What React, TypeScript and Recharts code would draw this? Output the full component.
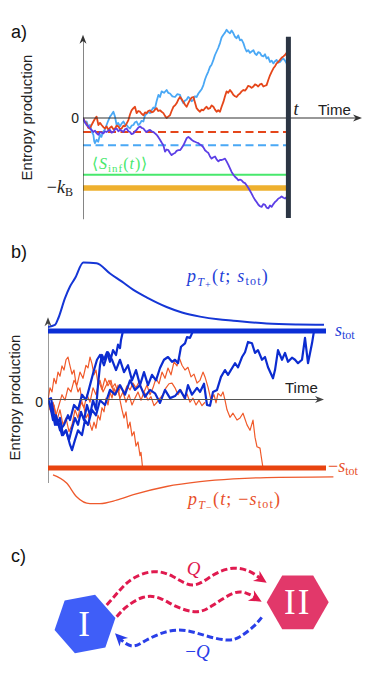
import React from 'react';
import { ComposedChart, Line, XAxis, YAxis, ReferenceDot, Scatter } from 'recharts';

// ================= Panel a (time: arbitrary units, entropy: units of 0.1 k_B) =================
const aTimeObs = 102.7;
const aTimeAxisEnd = 139.5;
const aEntropyAxisTop = 11.9;
const aRedMean = -2.0;
const aBlueMean = -3.9;
const aSinfMean = -8.1;
const aMinusKB = -10;

const aBlue: number[][] = [
  [0,0],[0.8,-0.6],[1.8,-0.5],[2.6,-1.2],[3.5,-1.0],[4.3,-1.9],[5.2,-2.4],[5.6,-3.3],[6,-3.6],[6.8,-3.1],[7.6,-3.4],[8.5,-2.4],[9.2,-2.7],[10,-2.0],[11,-1.6],[11.8,-1.0],[12.6,-0.4],[13.5,0.2],[14.3,0.5],[15.2,0.9],[16,0.2],[16.8,-1.0],[17.6,-0.7],[18.5,-1.2],[19.3,-0.8],[20.2,-0.5],[21,-0.9],[21.8,-1.0],[22.6,-1.3],[23.5,-1.5],[24.3,-1.1],[25.2,-1.0],[26,-0.6],[26.8,-0.5],[27.6,-1.0],[28.5,-0.8],[29.3,-0.4],[30.2,-0.5],[31,0.4],[31.8,0.6],[32.7,0.9],[33.5,0.7],[34.3,1.1],[35.2,1.5],[36,1.4],[36.8,2.4],[37.7,3.3],[38.5,3.0],[39.3,3.8],[40.5,3.6],[41.8,4.0],[42.6,3.6],[43.5,3.5],[44.7,3.1],[46,3.0],[47.2,3.4],[48.5,3.3],[49.3,2.6],[50.2,2.1],[51,2.5],[51.8,2.6],[52.6,3.0],[53.5,2.8],[54.3,2.4],[55.2,2.6],[56,3.1],[56.8,3.0],[57.7,3.5],[58.5,3.8],[59.3,4.1],[60.2,4.7],[61,5.5],[61.8,6.1],[62.6,6.6],[63.5,7.3],[64.3,7.6],[65.2,8.3],[66,9.0],[66.8,9.5],[67.6,10.0],[68.5,10.7],[69.3,11.5],[70.2,11.9],[71,12.2],[71.8,12.6],[72.6,12.3],[73.5,12.1],[74.3,12.5],[75.2,12.1],[76,11.6],[76.8,11.4],[77.6,11.8],[78.5,11.1],[79.3,11.2],[80.2,10.7],[81,10.0],[81.8,9.5],[82.6,9.7],[83.5,9.3],[84.3,9.5],[85.2,9.7],[86,9.2],[86.8,9.0],[87.6,9.4],[88.5,9.3],[89.3,8.9],[90.2,8.8],[91,9.1],[91.8,8.5],[92.6,8.7],[93.5,8.0],[94.3,8.2],[95.2,7.8],[96,8.1],[96.8,8.3],[97.6,7.9],[98.5,8.0],[99.3,8.3],[100.2,8.5],[101,8.2],[101.8,7.8],[102.6,7.0],[103.5,6.4],
];
const aRed: number[][] = [
  [0,0],[0.9,-0.5],[1.8,-0.8],[2.6,-1.4],[3.5,-1.5],[4.3,-1.0],[5.2,-0.5],[6,-0.1],[6.8,0.2],[7.7,-1.0],[8.5,-0.7],[9.3,-1.0],[10.2,-1.3],[11,-1.5],[11.8,-1.2],[12.7,-1.7],[13.5,-1.4],[14.3,-1.2],[15.2,-1.6],[16,-1.5],[16.8,-1.1],[17.7,-1.2],[18.5,-1.6],[19.3,-1.5],[20.2,-1.1],[21,-1.2],[21.8,-0.8],[22.7,-0.3],[23.5,0.5],[24.3,1.1],[25.2,1.4],[26,1.6],[26.8,0.7],[27.6,1.0],[28.5,0.9],[29.3,0.6],[30.2,0.4],[31,0.8],[31.8,0.7],[32.6,1.0],[33.5,1.1],[34.3,0.8],[35.2,0.9],[36,1.2],[36.8,1.4],[37.6,1.0],[38.5,1.1],[39.3,0.9],[40.2,0.7],[41,0.3],[41.8,0.0],[42.6,0.2],[43.5,0.4],[44.3,1.0],[45.2,1.6],[46,1.8],[46.8,2.1],[47.6,2.6],[48.5,3.0],[49.3,2.7],[50.2,2.3],[51,1.9],[51.8,1.6],[52.6,2.1],[53.5,2.6],[54.3,2.9],[55.2,3.0],[56,2.2],[56.8,1.4],[57.7,1.1],[58.5,0.9],[59.3,1.2],[60.2,1.1],[61,1.4],[61.8,1.6],[62.6,1.3],[63.5,1.4],[64.3,1.8],[65.2,1.6],[66,1.2],[66.8,0.9],[67.6,1.1],[68.5,0.9],[69.3,1.6],[70.2,2.3],[71,3.1],[71.8,3.8],[72.6,3.6],[73.5,4.0],[74.3,3.7],[75.2,3.3],[76,3.1],[76.8,3.0],[77.6,3.3],[78.5,3.5],[79.3,3.8],[80.2,4.0],[81,3.9],[81.8,4.2],[82.6,4.6],[83.5,4.5],[84.3,4.3],[85.2,4.5],[86,4.8],[86.8,4.7],[87.6,4.5],[88.5,4.8],[89.3,4.9],[90.2,4.5],[91,4.6],[91.8,4.7],[92.6,5.4],[93.5,6.1],[94.3,6.6],[95.2,7.1],[96,7.4],[96.8,7.8],[97.6,8.0],[98.5,8.3],[99.3,8.6],[100.2,8.8],[101,9.0],[101.8,9.3],[102.6,9.5],[103.5,9.6],
];
const aPurple: number[][] = [
  [0,0],[0.9,-0.6],[1.8,-1.0],[2.6,-1.2],[3.5,-1.5],[4.3,-1.7],[5.2,-2.0],[6,-1.8],[6.8,-2.2],[7.7,-2.4],[8.5,-2.0],[9.3,-2.1],[10.2,-2.2],[11,-1.9],[11.8,-2.0],[12.7,-1.8],[13.5,-1.7],[14.3,-2.1],[15.2,-2.0],[16,-1.6],[16.8,-1.5],[17.7,-1.9],[18.5,-1.7],[19.3,-1.8],[20.2,-2.0],[21,-1.6],[21.8,-1.5],[22.7,-1.9],[23.5,-2.0],[24.3,-2.3],[25.2,-2.2],[26,-1.9],[26.8,-1.7],[27.6,-1.4],[28.5,-1.2],[29.3,-1.4],[30.2,-1.5],[31,-1.8],[31.8,-2.0],[32.6,-1.8],[33.5,-1.7],[34.3,-1.9],[35.2,-2.0],[36,-2.2],[36.8,-2.4],[37.6,-2.7],[38.5,-3.1],[39.3,-3.5],[40.2,-3.9],[41,-4.8],[41.8,-4.5],[42.7,-4.6],[43.5,-5.0],[44.3,-5.3],[45.2,-5.1],[46,-5.0],[46.8,-4.7],[47.7,-4.6],[48.5,-4.6],[49.3,-4.3],[50.2,-3.9],[51,-3.4],[51.8,-2.9],[52.7,-2.7],[53.5,-2.9],[54.3,-3.1],[55.2,-3.3],[56,-3.4],[56.8,-3.5],[57.7,-3.6],[58.5,-3.8],[59.3,-3.9],[60.2,-4.2],[61,-4.6],[61.8,-4.8],[62.7,-5.0],[63.5,-5.5],[64.3,-5.8],[65.2,-5.6],[66,-5.5],[66.8,-5.9],[67.7,-6.2],[68.5,-6.0],[69.3,-6.0],[70.2,-5.9],[71,-5.8],[71.8,-6.2],[72.7,-6.7],[73.5,-7.2],[74.3,-7.7],[75.2,-8.1],[76,-8.4],[76.8,-8.6],[77.7,-8.9],[78.5,-8.8],[79.3,-8.9],[80.2,-9.2],[81,-9.3],[81.8,-9.6],[82.7,-10.0],[83.5,-10.4],[84.3,-10.8],[85.2,-11.3],[86,-11.7],[86.8,-12.0],[87.7,-12.4],[88.5,-12.6],[89.3,-12.7],[90.2,-12.3],[91,-12.4],[91.8,-12.8],[92.7,-12.9],[93.5,-12.5],[94.3,-12.7],[95.2,-12.3],[96,-12.0],[96.8,-11.8],[97.7,-11.5],[98.5,-11.4],[99.3,-11.2],[100.2,-11.4],[101,-11.5],[101.8,-11.3],[102.7,-11.2],
];

// ================= Panel b (entropy in units with s_tot = 10) =================
const bSTot = 10;
const bLineEnd = 139;
const bTimeAxisEnd = 138;
const bEntropyAxisTop = 12.0;
const bEntropyAxisBottom = -12.2;

const bBlue1: number[][] = [
  [0,0],[1.5,0.2],[3,-2.3],[4.5,-3.7],[6,-2.7],[7.5,-5.2],[9,-4.5],[10.5,-5.9],[12,-4.2],[13.5,-2.7],[15,-3.7],[16.5,-1.8],[18,-3.0],[19.5,-0.8],[21,-2.3],[22.5,-0.1],[24,-1.5],[25,2.1],[26,5.0],[27,6.5],[28,5.8],[29.5,6.9],[31,5.5],[32.5,7.2],[34,6.5],[35,8.0],[36,7.5],[36.5,8.7],[37.5,10],
];
const bBlue2: number[][] = [
  [0,0],[1,-0.8],[2.5,-3.0],[4,-2.3],[6,-4.5],[8,-3.7],[10,-2.3],[11,-3.0],[13,-0.8],[15,-1.5],[17,0.7],[19,-0.1],[21,2.1],[23,4.3],[24.5,5.8],[26,6.5],[28,5.0],[30,6.9],[32,5.8],[34,4.3],[36,5.8],[38,4.0],[40,5.0],[42,2.8],[44,4.3],[46,2.1],[48,4.0],[50,2.1],[52,3.6],[54,2.8],[56,4.6],[58,5.8],[60,6.2],[62,5.5],[63.5,5.8],[65,5.3],[66.5,7.7],[68.5,8.2],[69.5,9.1],[71,9.0],[72.5,10],
];
const bBlue3: number[][] = [
  [0,0],[2,-1.5],[3.5,-3.7],[5,-3.0],[7,-5.2],[9,-4.5],[11,-6.6],[12,-7.4],[13.5,-5.9],[15,-4.5],[17,-5.2],[18.5,-3.0],[20,-3.7],[22,-1.5],[24,-2.3],[26,-0.1],[28.5,-0.8],[31,1.4],[33.5,0.7],[36,2.1],[38.5,0.7],[41,2.8],[43.5,1.4],[46,2.1],[48.5,0.4],[51,1.4],[53.5,0.9],[56,-0.5],[58.5,1.4],[61,0.2],[63.5,0.5],[66,1.4],[68.5,0.2],[70,2.1],[72,0.7],[74.5,1.7],[76,1.1],[78,2.3],[79.5,-0.8],[81,-0.9],[82.5,1.1],[84.5,1.4],[86.5,3.3],[88.5,4.3],[90,3.6],[93.5,5.3],[95,4.7],[97,6.2],[98.5,6.9],[100,8.4],[102,8.2],[103.5,6.8],[105,7.2],[107,5.8],[108.5,6.2],[110,4.7],[112.5,3.1],[113.5,4.3],[115,7.2],[117,5.8],[118.5,6.8],[120,5.5],[122,6.1],[123.5,5.8],[125,5.3],[127,5.8],[128.5,9.0],[130,5.3],[132,8.2],[133,10],
];
const bRed1: number[][] = [
  [0,0],[1,1.7],[2,1.1],[3,3.1],[4,2.3],[5,4.0],[6,3.4],[7,4.9],[8,4.3],[9,5.8],[10,6.2],[11,4.9],[12,3.7],[13,4.3],[14,2.3],[15,1.1],[16,1.7],[17,-0.4],[18,-1.2],[19,-2.7],[20,-2.1],[21,-3.6],[22,-4.5],[23,-3.3],[24,-4.2],[25,-2.3],[26,-3.0],[27,-1.2],[28,-1.8],[29,0.2],[30,-0.8],[31,1.1],[32,0.2],[33,1.7],[34,0.7],[35,2.1],[36,-0.1],[37,-1.5],[38,-2.7],[39,-1.8],[40,-4.2],[41,-3.3],[42,-5.3],[43,-4.7],[44,-6.8],[45,-6.2],[46,-8.2],[46.5,-7.7],[47.3,-10],
];
const bRed2: number[][] = [
  [0,0],[1.5,-1.8],[3,-0.8],[4.5,-3.0],[6,-1.5],[7.5,-3.7],[9,-2.7],[10.5,-4.7],[12,-3.7],[13.5,-1.5],[15,-2.7],[16.5,-0.4],[18,-1.2],[19.5,0.7],[21,-0.4],[22.5,1.7],[24,0.7],[25.5,2.6],[27,1.4],[28.5,3.1],[30,2.0],[31.5,2.8],[33,0.7],[34.5,1.7],[36,0.2],[37.5,1.1],[39,-0.4],[40.5,0.7],[42,-0.8],[43.5,0.2],[45,1.1],[46.5,-0.1],[48,1.1],[49.5,2.1],[51,0.7],[52.5,1.7],[54,3.1],[55.5,2.3],[57,4.0],[58.5,3.1],[60,4.6],[61.5,3.6],[63,5.5],[64.5,4.9],[65.5,6.2],[67,5.0],[68.5,4.3],[70,4.7],[71.5,3.3],[73,3.7],[74.5,2.4],[76,2.8],[77.5,4.0],[78.5,3.3],[80,1.8],[81.5,-0.1],[83,0.7],[84,-0.5],[85,0.9],[86.5,0.5],[87.5,1.1],[88.5,-0.1],[89.5,-1.5],[91,-2.6],[92.5,-2.0],[94.5,-3.0],[96,-2.7],[97.5,-2.0],[99.5,-3.7],[101,-4.5],[102.5,-3.0],[103.5,-5.5],[104.5,-6.9],[106,-7.1],[106.5,-8.1],[107.5,-10],
];
const bRed3: number[][] = [
  [0,0],[1,-1.5],[2.5,-0.4],[4,-2.3],[5.5,-0.8],[7,0.7],[8.5,-0.1],[10,1.7],[11.5,1.1],[13,2.8],[14.5,2.1],[16,4.0],[17.5,3.1],[19,5.0],[20,4.6],[21,6.2],[22,5.2],[23,3.6],[24,4.3],[25,2.3],[26,2.8],[27.5,1.1],[29,2.0],[30.5,2.8],[32,1.7],[33.5,2.3],[35,1.1],[36.5,1.8],[38,0.8],[39.5,2.0],[41,1.4],[42.5,2.4],[44,1.7],[45.5,2.6],[47,1.4],[48.5,0.9],[50,-0.1],[51.5,0.4],[53,-0.9],[54.5,-0.4],[56,0.2],[57.5,0.7],[59,1.7],[60.5,2.3],[62,2.4],[63.5,1.7],[65,0.7],[66.5,1.4],[68,0.2],[69.5,0.8],[71,-0.4],[72.5,0.2],[74,-0.8],[75.5,-0.1],[77,-0.9],[78.5,-0.4],
];
const bPTplus: number[][] = [
  [0,10.6],[3.5,10.9],[5.2,11.9],[8.5,14.8],[11,16.5],[13.5,17.7],[17.7,20.0],[24.3,19.9],[31,18.4],[37,17.2],[42.7,16.0],[50,14.8],[59.3,13.5],[67,12.7],[76,12.1],[85,11.7],[92.7,11.5],[109.3,11.1],[125,10.95],[138,10.9],
];
const bPTminus: number[][] = [
  [2.5,-11.0],[9.3,-12.2],[14.3,-14.2],[21,-15.2],[26,-15.2],[34.3,-14.7],[42.7,-13.9],[59.3,-12.7],[76,-12.0],[92.7,-11.6],[109.3,-11.4],[142.7,-11.3],
];

// ================= Panel c (diagram coordinates) =================
const cNodeI = [{ x: 85, y: 84, name: 'I' }];
const cNodeII = [{ x: 297.7, y: 62.3, name: 'II' }];
const cArrowQ1: number[][] = [[106.7,65],[120,50],[133.3,38.3],[153.3,31.7],[173.3,36.7],[193.3,45],[213.3,35],[233.3,28.3],[250,31.7],[261,39]];
const cArrowQ1Tip = [266.7, 42.7];
const cArrowQ2: number[][] = [[116.7,76.7],[126.7,66.7],[143.3,57.3],[160,58.3],[176.7,66.7],[196.7,71.7],[213.3,65],[233.3,53.3],[246.7,53.3],[256.5,58]];
const cArrowQ2Tip = [261.7, 61.7];
const cArrowNegQ: number[][] = [[261.7,77.3],[253.3,86.7],[240,96.7],[226.7,100],[206.7,96],[186.7,90.7],[166.7,91.7],[146.7,100],[133.3,106],[123.3,101.7],[119,97.3]];
const cArrowNegQTip = [115, 93.3];

// ================= helpers =================
const SANS = "'Liberation Sans', Arial, Helvetica, sans-serif";
const SERIF = "'Liberation Serif', 'Times New Roman', serif";

const tv = (a: number[][]) => a.map(([t, v]) => ({ t, v }));
const xy = (a: number[][]) => a.map(([x, y]) => ({ x, y }));
const hseg = (t0: number, t1: number, v: number) => [{ t: t0, v }, { t: t1, v }];
const vseg = (t: number, v0: number, v1: number) => [{ t, v: v0 }, { t, v: v1 }];

const arrowShape = (angle: number, len: number, half: number, color: string) => (p: any) => (
  <path
    d={`M0,0 L${-len},${-half} L${-len * 0.7},0 L${-len},${half} Z`}
    transform={`translate(${p.cx},${p.cy}) rotate(${angle})`}
    fill={color}
  />
);
const at = (node: React.ReactNode) => (p: any) => <g transform={`translate(${p.cx},${p.cy})`}>{node}</g>;

const hexShape = (color: string, rot: number, r: number) => (p: any) => {
  const { cx, cy, payload } = p;
  const pts = [0, 1, 2, 3, 4, 5]
    .map((k) => {
      const a = ((rot + 60 * k) * Math.PI) / 180;
      return `${cx + r * Math.cos(a)},${cy + r * Math.sin(a)}`;
    })
    .join(' ');
  return (
    <g>
      <polygon points={pts} fill={color} />
      <text x={cx} y={cy + 12} textAnchor="middle" fill="#fff" fontSize={35} fontFamily={SERIF} letterSpacing={2}>
        {payload.name}
      </text>
    </g>
  );
};

const line = (key: string, data: any[], color: string, width: number, extra: any = {}) => (
  <Line
    key={key}
    data={data}
    dataKey={extra.dataKey || 'v'}
    type={extra.type || 'linear'}
    stroke={color}
    strokeWidth={width}
    strokeDasharray={extra.dash}
    strokeLinejoin="round"
    dot={false}
    activeDot={false}
    isAnimationActive={false}
  />
);

const C = {
  aBlue: '#4aa8f5',
  aRed: '#e5461a',
  aPurple: '#5c3fe6',
  aGreen: '#47e86c',
  aOrange: '#eeb02e',
  aBar: '#2b3543',
  axis: '#333',
  bBlue: '#0c2cd0',
  bBlueThick: '#0b2ed6',
  bRed: '#f05a2a',
  bRedThick: '#e8430f',
  cRed: '#e01a4f',
  cBlue: '#2a3fe8',
  cHexBlue: '#3f5ef8',
  cHexRed: '#e2386a',
};

export default function App() {
  return (
    <div style={{ position: 'absolute', left: 0, top: 0, width: 382, height: 688, background: '#fff' }}>
      {/* Panel a */}
      <div style={{ position: 'absolute', left: 0, top: 0 }}>
        <ComposedChart width={382} height={230} margin={{ top: 23.5, right: 19, bottom: 10.5, left: 83 }}>
          <XAxis dataKey="t" type="number" domain={[0, 140]} hide allowDataOverflow />
          <YAxis dataKey="v" type="number" domain={[-14.5, 13.5]} hide allowDataOverflow />
          {line('aRM', hseg(0, aTimeObs, aRedMean), C.aRed, 2, { dash: '8 4.5' })}
          {line('aBM', hseg(0, aTimeObs, aBlueMean), C.aBlue, 2, { dash: '8 4.5' })}
          {line('aSI', hseg(0, aTimeObs, aSinfMean), C.aGreen, 2)}
          {line('aKB', hseg(0, aTimeObs, aMinusKB), C.aOrange, 5.5)}
          {line('aB', tv(aBlue), C.aBlue, 1.8)}
          {line('aR', tv(aRed), C.aRed, 1.8)}
          {line('aP', tv(aPurple), C.aPurple, 1.8)}
          {line('aXA', hseg(0, aTimeAxisEnd - 2, 0), C.axis, 1.2)}
          {line('aYA', vseg(0, -14.5, aEntropyAxisTop - 0.6), C.axis, 1.2)}
          {line('aBar', vseg(aTimeObs, 11.6, -14.3), C.aBar, 5)}
          <ReferenceDot x={aTimeAxisEnd} y={0} ifOverflow="visible" shape={arrowShape(0, 9, 3.5, C.axis)} />
          <ReferenceDot x={0} y={aEntropyAxisTop} ifOverflow="visible" shape={arrowShape(-90, 9, 3.5, C.axis)} />
          <ReferenceDot x={0} y={0} ifOverflow="visible" shape={at(
            <text x={-4} y={5} textAnchor="end" fontSize={14} fontFamily={SANS} fill="#222">0</text>
          )} />
          <ReferenceDot x={aTimeObs} y={0} ifOverflow="visible" shape={at(
            <text x={5} y={-3} fontSize={18} fontStyle="italic" fontFamily={SERIF} fill="#222">t</text>
          )} />
          <ReferenceDot x={aTimeAxisEnd} y={0} ifOverflow="visible" shape={at(
            <text x={-44} y={-3} fontSize={15} fontFamily={SANS} fill="#222">Time</text>
          )} />
          <ReferenceDot x={0} y={aMinusKB} ifOverflow="visible" shape={at(
            <text x={-10} y={5} textAnchor="end" fontSize={18} fontFamily={SERIF} fill="#222">
              −<tspan fontStyle="italic">k</tspan><tspan fontSize={12} dy={3}>B</tspan>
            </text>
          )} />
          <ReferenceDot x={0} y={aSinfMean} ifOverflow="visible" shape={at(
            <text x={9} y={-6} fontSize={16} fontFamily={SERIF} fill={C.aGreen} letterSpacing={1}>
              ⟨<tspan fontStyle="italic">S</tspan><tspan fontSize={11} dy={3}>inf</tspan><tspan dy={-3}>(</tspan><tspan fontStyle="italic">t</tspan>)⟩
            </text>
          )} />
        </ComposedChart>
      </div>

      {/* Panel b */}
      <div style={{ position: 'absolute', left: 0, top: 240 }}>
        <ComposedChart width={382} height={300} margin={{ top: 15.65, right: 44, bottom: 17.2, left: 48 }}>
          <XAxis dataKey="t" type="number" domain={[0, 145]} hide allowDataOverflow />
          <YAxis dataKey="v" type="number" domain={[-18, 21]} hide allowDataOverflow />
          {line('bR1', tv(bRed1), C.bRed, 1.2)}
          {line('bR2', tv(bRed2), C.bRed, 1.2)}
          {line('bR3', tv(bRed3), C.bRed, 1.2)}
          {line('bB1', tv(bBlue1), C.bBlue, 2.2)}
          {line('bB2', tv(bBlue2), C.bBlue, 2.2)}
          {line('bB3', tv(bBlue3), C.bBlue, 2.2)}
          {line('bXA', hseg(0, bTimeAxisEnd - 2, 0), '#555', 1.2)}
          {line('bYA', vseg(0, bEntropyAxisBottom, bEntropyAxisTop - 0.8), '#555', 1.2)}
          {line('bST', hseg(0, bLineEnd, bSTot), C.bBlueThick, 5)}
          {line('bMST', hseg(0, bLineEnd, -bSTot), C.bRedThick, 5)}
          {line('bPP', tv(bPTplus), '#1536d6', 2, { type: 'monotone' })}
          {line('bPM', tv(bPTminus), '#ee5a2d', 1.3, { type: 'monotone' })}
          <ReferenceDot x={bTimeAxisEnd} y={0} ifOverflow="visible" shape={arrowShape(0, 9, 3.5, '#444')} />
          <ReferenceDot x={0} y={bEntropyAxisTop} ifOverflow="visible" shape={arrowShape(-90, 9, 3.5, '#444')} />
          <ReferenceDot x={0} y={0} ifOverflow="visible" shape={at(
            <text x={-5} y={7} textAnchor="end" fontSize={14} fontFamily={SANS} fill="#222">0</text>
          )} />
          <ReferenceDot x={bTimeAxisEnd} y={0} ifOverflow="visible" shape={at(
            <text x={-39} y={-6.5} fontSize={15} fontFamily={SANS} fill="#222">Time</text>
          )} />
          <ReferenceDot x={bLineEnd} y={bSTot} ifOverflow="visible" shape={at(
            <text x={9} y={5} fontSize={18} fontFamily={SERIF} fill="#1f3fd8">
              <tspan fontStyle="italic">s</tspan><tspan fontSize={12} dy={3}>tot</tspan>
            </text>
          )} />
          <ReferenceDot x={bLineEnd} y={-bSTot} ifOverflow="visible" shape={at(
            <text x={2} y={4} fontSize={18} fontFamily={SERIF} fill="#e8502a">
              −<tspan fontStyle="italic">s</tspan><tspan fontSize={12} dy={3}>tot</tspan>
            </text>
          )} />
          <ReferenceDot x={69.5} y={17.2} ifOverflow="visible" shape={at(
            <text x={0} y={0} fontSize={18} fontFamily={SERIF} fill="#1f3fd8" letterSpacing={1.2}>
              <tspan fontStyle="italic">p</tspan><tspan fontSize={12} dy={4} fontStyle="italic">T</tspan><tspan fontSize={10} dy={2}>+</tspan><tspan dy={-6}>(</tspan><tspan fontStyle="italic">t</tspan>; <tspan fontStyle="italic">s</tspan><tspan fontSize={12} dy={3}>tot</tspan><tspan dy={-3}>)</tspan>
            </text>
          )} />
          <ReferenceDot x={70} y={-15.4} ifOverflow="visible" shape={at(
            <text x={0} y={0} fontSize={18} fontFamily={SERIF} fill="#e8502a" letterSpacing={1.2}>
              <tspan fontStyle="italic">p</tspan><tspan fontSize={12} dy={4} fontStyle="italic">T</tspan><tspan fontSize={10} dy={2}>−</tspan><tspan dy={-6}>(</tspan><tspan fontStyle="italic">t</tspan>; −<tspan fontStyle="italic">s</tspan><tspan fontSize={12} dy={3}>tot</tspan><tspan dy={-3}>)</tspan>
            </text>
          )} />
        </ComposedChart>
      </div>

      {/* Panel c */}
      <div style={{ position: 'absolute', left: 0, top: 540 }}>
        <ComposedChart width={382} height={148} margin={{ top: 0, right: 0, bottom: 0, left: 0 }}>
          <XAxis dataKey="x" type="number" domain={[0, 382]} hide allowDataOverflow />
          <YAxis dataKey="y" type="number" domain={[0, 148]} reversed hide allowDataOverflow />
          {line('cQ1', xy(cArrowQ1), C.cRed, 3, { dataKey: 'y', type: 'natural', dash: '6.5 3' })}
          {line('cQ2', xy(cArrowQ2), C.cRed, 3, { dataKey: 'y', type: 'natural', dash: '6.5 3' })}
          {line('cNQ', xy(cArrowNegQ), C.cBlue, 3, { dataKey: 'y', type: 'natural', dash: '6.5 3' })}
          <Scatter data={cNodeI} dataKey="y" shape={hexShape(C.cHexBlue, -11, 31)} isAnimationActive={false} />
          <Scatter data={cNodeII} dataKey="y" shape={hexShape(C.cHexRed, 0, 31)} isAnimationActive={false} />
          <ReferenceDot x={cArrowQ1Tip[0]} y={cArrowQ1Tip[1]} ifOverflow="visible" shape={arrowShape(33, 12.5, 6, C.cRed)} />
          <ReferenceDot x={cArrowQ2Tip[0]} y={cArrowQ2Tip[1]} ifOverflow="visible" shape={arrowShape(30, 12.5, 6, C.cRed)} />
          <ReferenceDot x={cArrowNegQTip[0]} y={cArrowNegQTip[1]} ifOverflow="visible" shape={arrowShape(-135, 12.5, 6, C.cBlue)} />
          <ReferenceDot x={193.5} y={35} ifOverflow="visible" shape={at(
            <text x={0} y={0} textAnchor="middle" fontSize={19} fontStyle="italic" fontFamily={SERIF} fill={C.cRed}>Q</text>
          )} />
          <ReferenceDot x={197.5} y={118} ifOverflow="visible" shape={at(
            <text x={0} y={0} textAnchor="middle" fontSize={19} fontFamily={SERIF} fill={C.cBlue}>
              −<tspan fontStyle="italic">Q</tspan>
            </text>
          )} />
        </ComposedChart>
      </div>

      {/* Panel letters and axis titles */}
      <svg width={382} height={688} style={{ position: 'absolute', left: 0, top: 0, pointerEvents: 'none' }}>
        <text x={11} y={37.5} fontSize={18} fontFamily={SANS} fill="#111">a)</text>
        <text x={11} y={258} fontSize={18} fontFamily={SANS} fill="#111">b)</text>
        <text x={11} y={562} fontSize={18} fontFamily={SANS} fill="#111">c)</text>
        <text transform="translate(32,117.5) rotate(-90)" textAnchor="middle" fontSize={15} fontFamily={SANS} fill="#222">Entropy production</text>
        <text transform="translate(20,397.5) rotate(-90)" textAnchor="middle" fontSize={15} fontFamily={SANS} fill="#222">Entropy production</text>
      </svg>
    </div>
  );
}
